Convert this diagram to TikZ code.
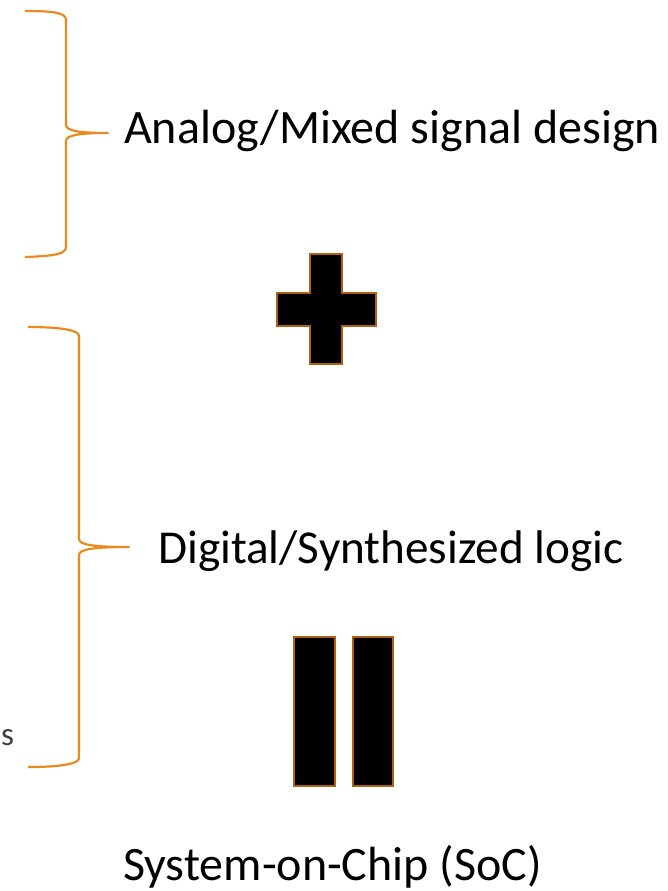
\documentclass[tikz,border=0pt]{standalone}
\usepackage{fontspec}
\setmainfont{Carlito}
\definecolor{braceor}{HTML}{E88A1E}
\definecolor{symbr}{HTML}{B0600F}
\definecolor{cutgray}{HTML}{404040}
\begin{document}
\begin{tikzpicture}[x=1pt,y=-1pt,
  bracestyle/.style={draw=braceor,line width=2.2pt,line join=round},
  symbol/.style={draw=symbr,fill=black,line width=2.6pt},
  label/.style={anchor=base west,inner sep=0pt,font=\fontsize{48}{58}\selectfont}]
\useasboundingbox (0,0) rectangle (667,891);
% brace 1
\draw[bracestyle] (25,11) .. controls (55,11) and (66,13) .. (66,20)
  -- (66,125) .. controls (66,131) and (80,133) .. (108,133)
  .. controls (80,133) and (66,135) .. (66,141)
  -- (66,247) .. controls (66,254) and (55,256) .. (25,257);
\coordinate (tip1) at (108,133);
\node[label] (analog) at (124,143) {Analog/Mixed signal design};
% brace 2
\draw[bracestyle] (28,327) .. controls (60,327) and (79,330) .. (79,336)
  -- (79,539) .. controls (79,545) and (95,547) .. (129,547)
  .. controls (95,547) and (79,549) .. (79,555)
  -- (79,758) .. controls (79,764) and (60,767) .. (28,767);
\coordinate (tip2) at (129,547);
\node[label,font=\fontsize{47.2}{57}\selectfont] (digital) at (158,563) {Digital/Synthesized logic};
% plus
\draw[symbol] (310,254) -- (342,254) -- (342,293) -- (376,293) -- (376,326)
  -- (342,326) -- (342,364) -- (310,364) -- (310,326) -- (277,326)
  -- (277,293) -- (310,293) -- cycle;
% equals bars
\draw[symbol] (294,637) rectangle (335,786);
\draw[symbol] (353,637) rectangle (393,786);
\node[label] (soc) at (123,880) {System-on-Chip (SoC)};
\node[anchor=base west,inner sep=0pt,text=cutgray,font=\fontsize{33}{40}\selectfont] (cut) at (1,745) {s};
\end{tikzpicture}
\end{document}
